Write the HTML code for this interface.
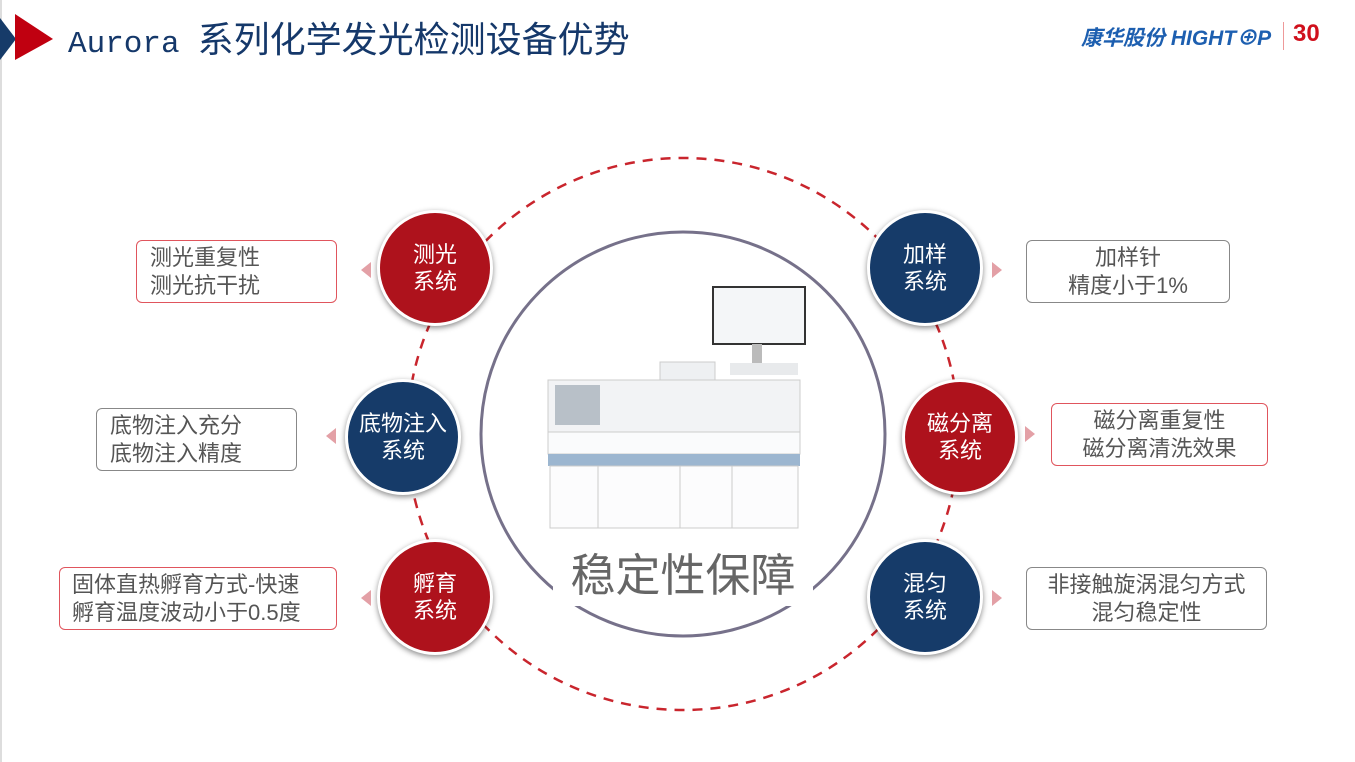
<!DOCTYPE html>
<html><head><meta charset="utf-8"><style>
body{margin:0;width:1355px;height:762px;background:#fff;position:relative;overflow:hidden;font-family:"Liberation Sans","Noto Sans CJK SC",sans-serif}
.a{position:absolute}
.c{position:absolute;width:110px;height:110px;border-radius:50%;border:3px solid #fff;box-shadow:0 2px 6px rgba(0,0,0,.45);color:#fff;font-size:22px;line-height:27px;display:flex;align-items:center;justify-content:center;text-align:center}
.r{background:#ae121c}.n{background:#163b69}
.b{position:absolute;border:1px solid #888;border-radius:6px;background:#fff;color:#555;font-size:22px;line-height:28px;display:flex;flex-direction:column;justify-content:center;box-sizing:border-box}
.br{border-color:#e0555d}
.t{position:absolute;width:0;height:0;border-top:8px solid transparent;border-bottom:8px solid transparent}
.tl{border-right:10px solid #e3a0a6}.tr{border-left:10px solid #e3a0a6}
</style></head><body>
<div class="a" style="left:0;top:0;width:2px;height:762px;background:#ddd"></div>
<svg class="a" style="left:0;top:14px" width="60" height="46"><polygon points="0,4 16,25 0,46" fill="#163b69"/><polygon points="15,0 53,25 15,46" fill="#c00010"/></svg>
<div class="a" style="left:68px;top:11px;color:#15386a;white-space:nowrap"><span style="font-size:31px;font-family:'Liberation Mono',monospace">Aurora</span><span style="font-size:36px;font-family:'Noto Sans CJK SC',sans-serif;margin-left:18px">系列化学发光检测设备优势</span></div>
<div class="a" style="left:1081px;top:22px;font-size:21px;font-weight:bold;color:#1d5fb0;font-style:italic">康华股份 HIGHT⊕P</div>
<div class="a" style="left:1283px;top:22px;width:1px;height:28px;background:#e99"></div>
<div class="a" style="left:1293px;top:20px;font-size:24px;font-weight:bold;color:#d0101c">30</div>
<svg class="a" style="left:0;top:0" width="1355" height="762">
<circle cx="683" cy="434" r="276" fill="none" stroke="#c9252d" stroke-width="2.5" stroke-dasharray="10 8"/>
<circle cx="683" cy="434" r="202" fill="#fff" stroke="#76718a" stroke-width="3"/>
<rect x="713" y="287" width="92" height="57" fill="#f4f6f8" stroke="#333" stroke-width="2"/>
<rect x="752" y="344" width="10" height="25" fill="#bbb"/>
<rect x="730" y="363" width="68" height="12" fill="#e8eaec"/>
<rect x="660" y="362" width="55" height="22" fill="#eef0f2" stroke="#ccc"/>
<rect x="548" y="380" width="252" height="52" fill="#f2f3f5" stroke="#ccc"/>
<rect x="555" y="385" width="45" height="40" fill="#b8c0c8"/>
<rect x="548" y="432" width="252" height="22" fill="#fafbfc" stroke="#ccc"/>
<rect x="548" y="454" width="252" height="12" fill="#9cb6d0"/>
<rect x="550" y="466" width="248" height="62" fill="#fcfcfd" stroke="#ccc"/>
<line x1="598" y1="466" x2="598" y2="528" stroke="#ccc"/><line x1="680" y1="466" x2="680" y2="528" stroke="#ccc"/><line x1="732" y1="466" x2="732" y2="528" stroke="#ccc"/>
</svg>
<div class="a" style="left:553px;top:546px;width:260px;text-align:center;font-size:45px;color:#666;background:#fff;line-height:60px">稳定性保障</div>
<div class="c r" style="left:377px;top:210px">测光<br>系统</div>
<div class="c n" style="left:345px;top:379px">底物注入<br>系统</div>
<div class="c r" style="left:377px;top:539px">孵育<br>系统</div>
<div class="c n" style="left:867px;top:210px">加样<br>系统</div>
<div class="c r" style="left:902px;top:379px">磁分离<br>系统</div>
<div class="c n" style="left:867px;top:539px">混匀<br>系统</div>
<div class="t tl" style="left:361px;top:262px"></div>
<div class="t tl" style="left:326px;top:428px"></div>
<div class="t tl" style="left:361px;top:590px"></div>
<div class="t tr" style="left:992px;top:262px"></div>
<div class="t tr" style="left:1025px;top:426px"></div>
<div class="t tr" style="left:992px;top:590px"></div>
<div class="b br" style="left:136px;top:240px;width:201px;height:63px;padding-left:13px">测光重复性<br>测光抗干扰</div>
<div class="b" style="left:96px;top:408px;width:201px;height:63px;padding-left:13px">底物注入充分<br>底物注入精度</div>
<div class="b br" style="left:59px;top:567px;width:278px;height:63px;padding-left:12px">固体直热孵育方式-快速<br>孵育温度波动小于0.5度</div>
<div class="b" style="left:1026px;top:240px;width:204px;height:63px;text-align:center">加样针<br>精度小于1%</div>
<div class="b br" style="left:1051px;top:403px;width:217px;height:63px;text-align:center">磁分离重复性<br>磁分离清洗效果</div>
<div class="b" style="left:1026px;top:567px;width:241px;height:63px;text-align:center">非接触旋涡混匀方式<br>混匀稳定性</div>
</body></html>
